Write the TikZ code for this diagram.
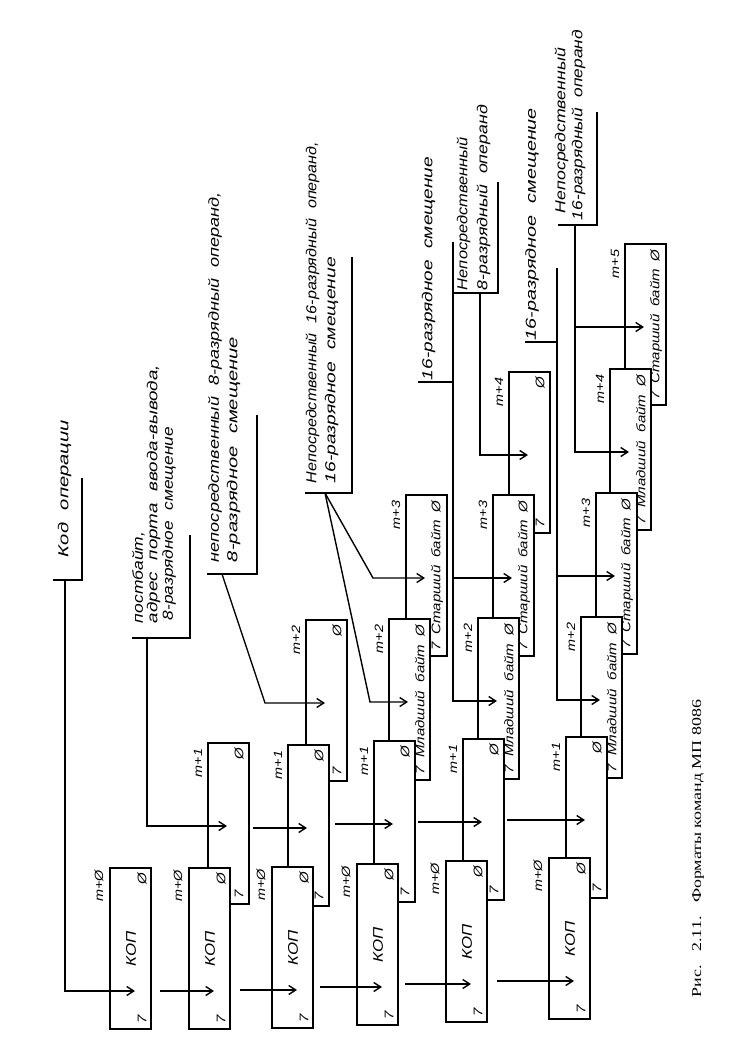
\documentclass[tikz,border=0pt]{standalone}
\usepackage{fontspec}
\usepackage{graphicx}
\setmainfont{Liberation Sans}
\newfontfamily\labf{Liberation Sans}[FakeStretch=1.2]
\newfontfamily\capf{Liberation Serif}
\usetikzlibrary{arrows.meta}
\newcommand\fitw[2]{\resizebox{#1}{\height}{#2}}
\newcommand\gap{\hspace{0.75em}}
\tikzset{
  bx/.style={draw, line width=1.7pt, fill=white, minimum width=41pt, minimum height=161pt, anchor=north west, inner sep=0pt, outer sep=0pt},
  rt/.style={rotate=90, inner sep=0pt, outer sep=0pt},
  lbl/.style={rt, anchor=west, font=\labf\itshape\fontsize{14.5}{16}\selectfont},
  btx/.style={rt, font=\labf\itshape\fontsize{12.5}{14}\selectfont},
  mtx/.style={rt, font=\labf\itshape\fontsize{12}{14}\selectfont},
  ktx/.style={rt, font=\labf\itshape\fontsize{14}{16}\selectfont},
  ln/.style={line width=1.4pt},
  ar/.style={ln, -{Straight Barb[length=7pt,width=9pt]}},
}
% plain box: name, left, top, m-label
\newcommand\Bplain[4]{%
  \node[bx] (#1) at (#2,#3) {};
  \node[btx] (#1-z) at ({#2+31},{#3+11}) {Ø};
  \node[btx] (#1-s) at ({#2+31},{#3+151}) {7};
  \node[mtx] (#1-m) at ({#2-10},{#3+20}) {#4};
  \coordinate (#1-in) at ({#2+19},{#3+83});
}
% KOP box: name, left, top
\newcommand\Bkop[3]{%
  \node[bx] (#1) at (#2,#3) {};
  \node[btx] (#1-z) at ({#2+32},{#3+11}) {Ø};
  \node[btx] (#1-s) at ({#2+32},{#3+151}) {7};
  \node[ktx] (#1-k) at ({#2+21},{#3+81}) {КОП};
  \node[mtx] (#1-m) at ({#2-11},{#3+18}) {m+Ø};
  \coordinate (#1-in) at ({#2+25},{#3+123});
}
% byte box: name, left, top, word, m-label
\newcommand\Bbyte[5]{%
  \node[bx] (#1) at (#2,#3) {};
  \node[btx] (#1-t) at ({#2+31},{#3+80.5}) {\makebox[150pt][s]{7 #4 байт Ø}};
  \node[mtx] (#1-m) at ({#2-10},{#3+20}) {#5};
  \coordinate (#1-in) at ({#2+19},{#3+83});
}
\begin{document}
\begin{tikzpicture}[x=1pt,y=-1pt]
\fill[white] (0,0) rectangle (733,1042);
\useasboundingbox (0,0) rectangle (733,1042);

% ---- rows of boxes (higher bytes first, so lower boxes cover them)
\Bkop{a0}{110}{868}
\Bplain{b1}{208}{743}{m+1}
\Bkop{b0}{189}{868}
\Bplain{c2}{306}{620}{m+2}
\Bplain{c1}{288}{745}{m+1}
\Bkop{c0}{272}{867}
\Bbyte{d3}{406}{495}{Старший}{m+3}
\Bbyte{d2}{389}{619}{Младший}{m+2}
\Bplain{d1}{374}{741}{m+1}
\Bkop{d0}{357}{864}
\Bplain{e4}{509}{372}{m+4}
\Bbyte{e3}{493}{495}{Старший}{m+3}
\Bbyte{e2}{478}{618}{Младший}{m+2}
\Bplain{e1}{463}{739}{m+1}
\Bkop{e0}{446}{861}
\Bbyte{f5}{625}{244}{Старший}{m+5}
\Bbyte{f4}{610}{369}{Младший}{m+4}
\Bbyte{f3}{596}{493}{Старший}{m+3}
\Bbyte{f2}{581}{617}{Младший}{m+2}
\Bplain{f1}{566}{737}{m+1}
\Bkop{f0}{549}{858}

% ---- labels
\node[lbl] (t1) at (64.5,557) {\fitw{137pt}{Код\gap операции}};
\node[lbl] (t2a) at (138.5,623) {\fitw{91pt}{постбайт,}};
\node[lbl] (t2b) at (153.5,623) {\fitw{258pt}{адрес\gap порта\gap ввода-вывода,}};
\node[lbl] (t2c) at (169,620) {\fitw{193pt}{8-разрядное\gap смещение}};
\node[lbl] (t3a) at (215,562) {\fitw{370pt}{непосредственный\gap 8-разрядный\gap операнд,}};
\node[lbl] (t3b) at (233.5,562) {\fitw{225pt}{8-разрядное\gap смещение}};
\node[lbl] (t4a) at (312.5,483) {\fitw{341pt}{Непосредственный\gap 16-разрядный\gap операнд,}};
\node[lbl] (t4b) at (331.5,483) {\fitw{226pt}{16-разрядное\gap смещение}};
\node[lbl] (t5) at (428.5,380) {\fitw{223pt}{16-разрядное\gap смещение}};
\node[lbl] (t6a) at (463.5,290) {\fitw{153pt}{Непосредственный}};
\node[lbl] (t6b) at (483.5,290) {\fitw{185pt}{8-разрядный\gap операнд}};
\node[lbl] (t7) at (532,340) {\fitw{232pt}{16-разрядное\gap смещение}};
\node[lbl] (t8a) at (561.5,213) {\fitw{165pt}{Непосредственный}};
\node[lbl] (t8b) at (578.5,220) {\fitw{190pt}{16-разрядный\gap операнд}};

% ---- brackets of labels
\draw[ln] (53,580) -- (82,580) -- (82,478);
\draw[ln] (132,638) -- (190,638) -- (190,535);
\draw[ln] (207,574) -- (257,574) -- (257,415);
\draw[ln] (305,493) -- (352,493) -- (352,257);
\draw[ln] (418,382) -- (453,382);
\draw[ln] (453,293) -- (498,293) -- (498,182);
\draw[ln] (525,342) -- (557,342);
\draw[ln] (558,225) -- (597,225) -- (597,112);

% ---- junction coordinates
\coordinate (L1j) at (65,580);
\coordinate (L2j) at (147,638);
\coordinate (L3j) at (222,574);
\coordinate (L3k) at (265,0);
\coordinate (L4j) at (325,493);
\coordinate (L4a) at (373,0);
\coordinate (L4b) at (370,0);
\coordinate (L5j) at (453,242);
\coordinate (L6j) at (480,293);
\coordinate (L7j) at (557,268);
\coordinate (L8j) at (575,225);
\coordinate (sb0) at (160,0);
\coordinate (sc0) at (240,0);
\coordinate (sd0) at (320,0);
\coordinate (se0) at (405,0);
\coordinate (sf0) at (497,0);
\coordinate (sc1) at (253,0);
\coordinate (sd1) at (335,0);
\coordinate (se1) at (418,0);
\coordinate (sf1) at (507,0);

% ---- connectors
\draw[ar] (L1j) |- (a0-in);
\draw[ar] (sb0 |- b0-in) -- (b0-in);
\draw[ar] (sc0 |- c0-in) -- (c0-in);
\draw[ar] (sd0 |- d0-in) -- (d0-in);
\draw[ar] (se0 |- e0-in) -- (e0-in);
\draw[ar] (sf0 |- f0-in) -- (f0-in);
\draw[ar] (L2j) |- (b1-in);
\draw[ar] (sc1 |- c1-in) -- (c1-in);
\draw[ar] (sd1 |- d1-in) -- (d1-in);
\draw[ar] (se1 |- e1-in) -- (e1-in);
\draw[ar] (sf1 |- f1-in) -- (f1-in);
\draw[ar] (L3j) -- (L3k |- c2-in) -- (c2-in);
\draw[ar] (L4j) -- (L4a |- d3-in) -- (d3-in);
\draw[ar] (L4j) -- (L4b |- d2-in) -- (d2-in);
\draw[ar] (L5j) |- (e2-in);
\draw[ar] (L5j |- e3-in) -- (e3-in);
\draw[ar] (L6j) |- (e4-in);
\draw[ar] (L7j) |- (f2-in);
\draw[ar] (L7j |- f3-in) -- (f3-in);
\draw[ar] (L8j) |- (f4-in);
\draw[ar] (L8j |- f5-in) -- (f5-in);

% ---- caption
\node[rt, anchor=west, font=\capf\fontsize{13.5}{15}\selectfont] (cap) at (698,997) {\fitw{297pt}{Рис.\gap 2.11.\gap Форматы команд МП 8086}};
\end{tikzpicture}
\end{document}
